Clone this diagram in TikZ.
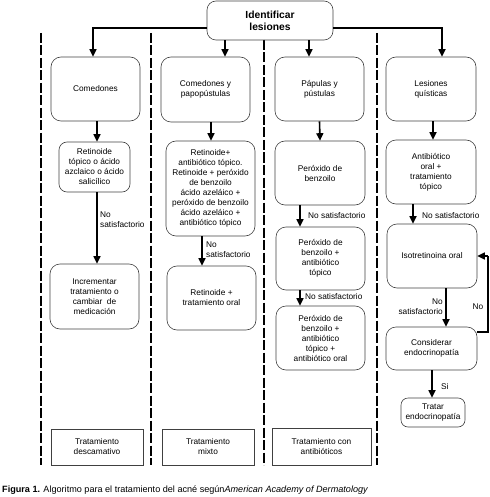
\documentclass[tikz,border=0pt]{standalone}
\usepackage{fontspec}
\setmainfont{Liberation Sans}
\usetikzlibrary{arrows.meta}
\newcommand\bxfont{\fontsize{8.3}{10}\selectfont}
\begin{document}
\begin{tikzpicture}[x=1pt,y=-1pt,
  box/.style={draw=black!75, line width=0.6pt, rounded corners=10pt, align=center, font=\bxfont, inner sep=0pt},
  plain/.style={draw=black!75, line width=0.6pt, align=center, font=\bxfont, inner sep=0pt},
  arr/.style={line width=1.6pt, -{Triangle[width=7pt,length=7.5pt]}},
  conn/.style={line width=1.6pt},
  sep/.style={line width=1.7pt, dash pattern=on 10pt off 2.5pt},
  lbl/.style={font=\bxfont, inner sep=0pt, align=left}]
\useasboundingbox (0,0) rectangle (489,497);

% separators
\draw[sep] (41,33) -- (41,465);
\draw[sep] (151,33) -- (151,465);
\draw[sep] (264,40) -- (264,465);
\draw[sep] (377,33) -- (377,465);

% top
\node[box, rounded corners=9pt, minimum width=126pt, minimum height=39pt,
      font=\fontsize{10.3}{12}\selectfont\bfseries] (top) at (270,20.5) {Identificar\\lesiones};

% column 1
\node[box, minimum width=89pt, minimum height=64pt] (c1a) at (95.5,89) {Comedones};
\node[box, rounded corners=8pt, minimum width=71pt, minimum height=50pt] (c1b) at (94.5,167) {Retinoide\\tópico o ácido\\azclaico o ácido\\salicílico};
\node[box, minimum width=89pt, minimum height=65pt] (c1c) at (94.5,296.5) {Incrementar\\tratamiento o\\cambiar\ \ de\\medicación};

% column 2
\node[box, minimum width=89pt, minimum height=65pt] (c2a) at (205.5,89.5) {Comedones y\\papopústulas};
\node[box, minimum width=89pt, minimum height=95pt] (c2b) at (210.5,188.5) {Retinoide+\\antibiótico tópico.\\Retinoide\ + peróxido\\de benzoilo\\ácido azeláico +\\peróxido de benzoilo\\ácido azeláico +\\antibiótico tópico};
\node[box, minimum width=89pt, minimum height=64pt] (c2c) at (211.5,298) {Retinoide +\\tratamiento oral};

% column 3
\node[box, minimum width=89pt, minimum height=64pt] (c3a) at (319.5,89) {Pápulas y\\pústulas};
\node[box, minimum width=90pt, minimum height=64pt] (c3b) at (320,173) {Peróxido de\\benzoilo};
\node[box, minimum width=89pt, minimum height=63pt] (c3c) at (320.5,258.5) {Peróxido de\\benzoilo +\\antibiótico\\tópico};
\node[box, minimum width=89pt, minimum height=64pt] (c3d) at (320.5,338) {Peróxido de\\benzoilo +\\antibiótico\\tópico +\\antibiótico oral};

% column 4
\node[box, minimum width=90pt, minimum height=64pt] (c4a) at (431,89) {Lesiones\\quísticas};
\node[box, minimum width=90pt, minimum height=64pt] (c4b) at (431,172) {Antibiótico\\oral +\\tratamiento\\tópico};
\node[box, minimum width=90pt, minimum height=64pt] (c4c) at (432,256) {Isotretinoina oral};
\node[box, minimum width=91pt, minimum height=43pt] (c4d) at (431.5,348.5) {Considerar\\endocrinopatía};
\node[box, rounded corners=7pt, minimum width=64pt, minimum height=29pt] (c4e) at (433,412.5) {Tratar\\endocrinopatía};

% bottom boxes
\node[plain, minimum width=92pt, minimum height=36pt] (b1) at (97,447) {Tratamiento\\descamativo};
\node[plain, minimum width=92pt, minimum height=36pt] (b2) at (208,447) {Tratamiento\\mixto};
\node[plain, minimum width=99pt, minimum height=37pt] (b3) at (321.5,446.5) {Tratamiento con\\antibióticos};

% top connectors
\draw[arr] ([yshift=-7.5pt]top.west) -| ([xshift=-2.5pt]c1a.north);
\draw[arr] ([yshift=-7.5pt]top.east) -| ([xshift=11pt]c4a.north);
\draw[arr] ([xshift=-45pt]top.south) -- ([xshift=-45pt]top.south |- c2a.north);
\draw[arr] ([xshift=39pt]top.south) -- ([xshift=39pt]top.south |- c3a.north);

% column 1 arrows
\draw[arr] ([xshift=1.5pt]c1a.south) -- ([xshift=2.5pt]c1b.north);
\draw[arr] ([xshift=2.5pt]c1b.south) -- ([xshift=2.5pt]c1c.north);
\node[lbl, anchor=west] (l1) at (100,220) {No\\satisfactorio};

% column 2 arrows
\draw[arr] ([xshift=5.5pt]c2a.south) -- ([xshift=0.5pt]c2b.north);
\draw[arr] ([xshift=-8.5pt]c2b.south) -- ([xshift=-9.5pt]c2c.north);
\node[lbl, anchor=west] (l2) at (206,250) {No\\satisfactorio};

% column 3 arrows
\draw[arr] (c3a.south) -- (c3b.north);
\draw[arr] ([xshift=-20pt]c3b.south) -- ([xshift=-20.5pt]c3c.north);
\draw[arr] ([xshift=-20.5pt]c3c.south) -- ([xshift=-20.5pt]c3d.north);
\node[lbl, anchor=west] (l3) at (308,216) {No satisfactorio};
\node[lbl, anchor=west] (l4) at (305,297) {No satisfactorio};

% column 4 arrows
\draw[arr] ([xshift=2pt]c4a.south) -- ([xshift=2pt]c4b.north);
\draw[arr] ([xshift=-18pt]c4b.south) -- ([xshift=-19pt]c4c.north);
\draw[arr] ([xshift=14pt]c4c.south) -- ([xshift=14.5pt]c4d.north);
\draw[arr] ([xshift=0.5pt]c4d.south) -- ([xshift=-1pt]c4e.north);
\node[lbl, anchor=west] (l5) at (422,216) {No satisfactorio};
\node[lbl, anchor=east, align=right] (l6) at (443,307) {No\\satisfactorio};
\node[lbl, anchor=west] (l7) at (441,387) {Si};

% feedback loop
\coordinate (fb1) at (488,332);
\coordinate (fb2) at (fb1 |- c4c.east);
\draw[conn, line width=1.2pt] (c4d.east |- fb1) -- (fb1) -- (fb2);
\draw[arr, line width=1.2pt] (fb2) -- (c4c.east);
\node[lbl, anchor=center] (l8) at (478,307) {No};

% caption
\node[anchor=base west, inner sep=0pt, font=\fontsize{9.1}{11}\selectfont] (cap) at (2,492)
  {\textbf{Figura 1.} Algoritmo para el tratamiento del acné según\textit{American Academy of Dermatology}};
\end{tikzpicture}
\end{document}
